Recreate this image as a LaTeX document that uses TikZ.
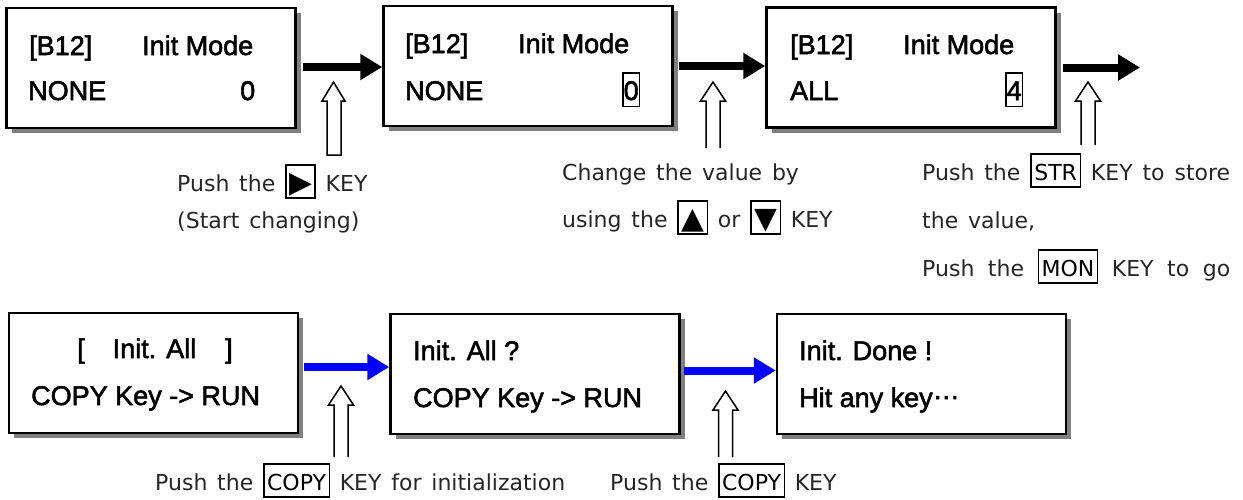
\documentclass[tikz,border=0pt]{standalone}
\usepackage{fontspec}
\usepackage{graphicx}
\setmainfont{Liberation Sans}
\newfontfamily\lcdfont{Liberation Sans}[FakeBold=2]
\newfontfamily\notefont{DejaVu Sans}[WordSpace=1.4]
\usetikzlibrary{arrows.meta,shadows}

\newcommand{\digitbox}[1]{{\setlength{\fboxsep}{0pt}\setlength{\fboxrule}{1.5pt}\fbox{\rule[-5.5pt]{0pt}{32pt}#1}}}
\newcommand{\keybox}[1]{{\color{black}\setlength{\fboxsep}{1pt}\setlength{\fboxrule}{1.5pt}\fbox{\rule[-5pt]{0pt}{29.5pt}\hspace{1.5pt}#1\hspace{1.5pt}}}}
\newcommand{\keyglyph}[1]{\keybox{\raisebox{-1pt}{\scalebox{1.35}{#1}}}}

\begin{document}
\begin{tikzpicture}[x=1pt,y=-1pt,
    lcd/.style={draw,line width=2.5pt,fill=white,minimum width=289pt,minimum height=120pt,
      drop shadow={shadow xshift=5pt,shadow yshift=-5pt,fill=black!50,opacity=1}},
    lcdtext/.style={anchor=base west,inner sep=0pt,font=\lcdfont\fontsize{27}{32}\selectfont},
    note/.style={anchor=base west,inner sep=0pt,text=black!85,font=\notefont\fontsize{22}{26}\selectfont},
    flowarrow/.style={line width=8pt,-{Triangle[length=22pt,width=25pt]}},
    bluearrow/.style={flowarrow,blue},
    hollow/.style={line width=1.5pt,fill=white,line join=miter}]
    \useasboundingbox (0,0) rectangle (1243,499);

    % display boxes
    \node[lcd] (b1) at (151,68) {};
    \node[lcd] (b2) at (528,66) {};
    \node[lcd] (b3) at (911,67.5) {};
    \node[lcd] (b4) at (153.5,373) {};
    \node[lcd] (b5) at (535,374) {};
    \node[lcd] (b6) at (921.5,374) {};

    \node[lcdtext] (b1t) at (29,55) {[B12]};
    \node[lcdtext] (b1m) at (142,55) {Init Mode};
    \node[lcdtext] (b1v) at (28,100) {NONE};
    \node[lcdtext] (b1n) at (240,100) {0};
    \node[lcdtext] (b2t) at (405,53) {[B12]};
    \node[lcdtext] (b2m) at (518,53) {Init Mode};
    \node[lcdtext] (b2v) at (405,100) {NONE};
    \node[lcdtext] (b2n) at (622,100) {\digitbox{0}};
    \node[lcdtext] (b3t) at (790,54) {[B12]};
    \node[lcdtext] (b3m) at (903,54) {Init Mode};
    \node[lcdtext] (b3v) at (790,100) {ALL};
    \node[lcdtext] (b3n) at (1005,100) {\digitbox{4}};
    \node[lcdtext] (b4t) at (77,358) {[\hspace{28pt}Init. All\hspace{29pt}]};
    \node[lcdtext] (b4v) at (31,405) {COPY Key -> RUN};
    \node[lcdtext] (b5t) at (413,360) {Init. All ?};
    \node[lcdtext] (b5v) at (413,407) {COPY Key -> RUN};
    \node[lcdtext] (b6t) at (799,360) {Init. Done !};
    \node[lcdtext] (b6v) at (799,407) {Hit any key\raisebox{8pt}{…}};

    % flow
    \draw[flowarrow,shorten <=6.5pt] ([yshift=1pt]b1.east) -- ([yshift=1pt]b1.east -| b2.west);
    \draw[flowarrow,shorten <=5.5pt] (b2.east) -- (b2.east -| b3.west);
    \coordinate (end3) at (1140,67);
    \draw[flowarrow,shorten <=6.5pt] (b3.east) -- (b3.east -| end3);
    \draw[bluearrow,shorten <=5pt] ([yshift=6pt]b4.east) -- ([yshift=6pt]b4.east -| b5.west);
    \draw[bluearrow,shorten <=3pt] ([yshift=3.5pt]b5.east) -- ([yshift=3.5pt]b5.east -| b6.west);

    % key hints
    \draw[hollow] (327,155) -- (327,101) -- (322,101) -- (333.5,82) -- (345,101) -- (341,101) -- (341,155) -- cycle;
    \foreach \x/\t/\b in {713/82/148,1088/82/145,341/386/457,725.5/391/457}
      \draw[hollow] (\x-7,\b) -- (\x-7,\t+19) -- (\x-12.5,\t+19) -- (\x,\t) -- (\x+12.5,\t+19) -- (\x+7,\t+19) -- (\x+7,\b);

    \node[note] (n1a) at (177,191) {Push the \keyglyph{▶} KEY};
    \node[note] (n1b) at (177,228) {(Start changing)};
    \node[note] (n2a) at (562,180) {Change the value by};
    \node[note] (n2b) at (562,227) {using the \keyglyph{▲} or \keyglyph{▼} KEY};
    \node[note] (n3a) at (922,180) {\makebox[308pt][s]{Push the \keybox{STR} KEY to store}};
    \node[note] (n3b) at (922,228) {the value,};
    \node[note] (n3c) at (922,276) {\makebox[308pt][s]{Push the \keybox{MON} KEY to go}};
    \node[note] (n4) at (155,490) {Push the \keybox{COPY} KEY for initialization};
    \node[note] (n5) at (610,490) {Push the \keybox{COPY} KEY};
\end{tikzpicture}
\end{document}
